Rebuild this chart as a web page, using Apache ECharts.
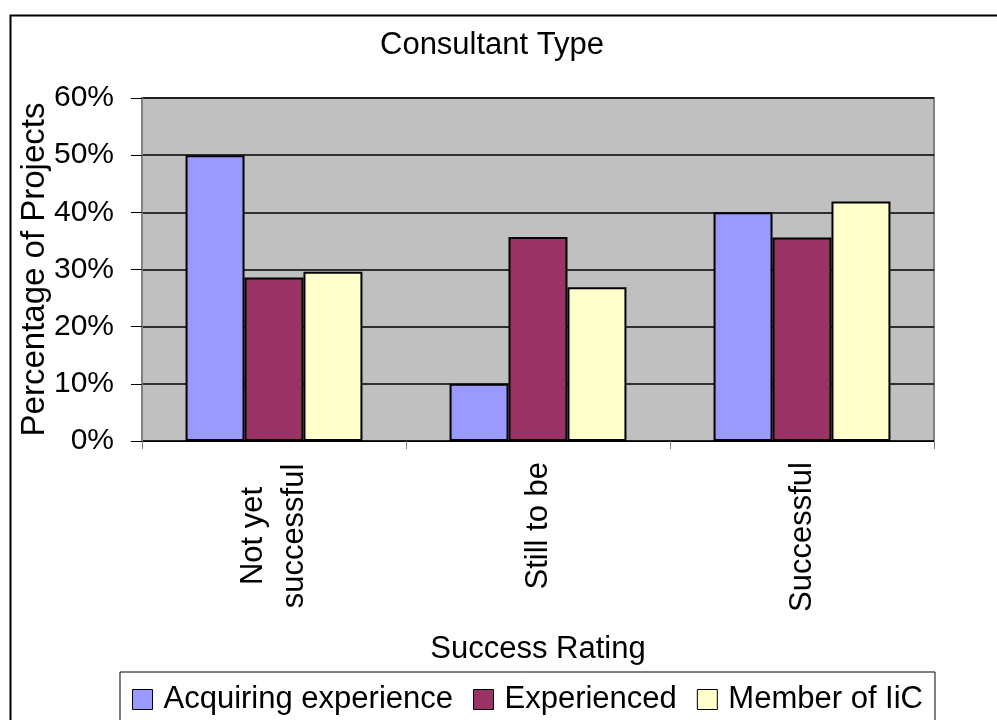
<!DOCTYPE html>
<html>
<head>
<meta charset="utf-8">
<script src="https://cdn.jsdelivr.net/npm/echarts@6/dist/echarts.min.js"></script>
<style>html,body{margin:0;padding:0;background:#fff}#c{width:997px;height:720px}</style>
</head>
<body>
<div id="c"></div>
<script>
const categories = ['Not yet\nsuccessful', 'Still to be', 'Successful'];
const seriesNames = ['Acquiring experience', 'Experienced', 'Member of IiC'];
const acquiring = [50.0, 10.0, 40.0];
const experienced = [28.6, 35.7, 35.6];
const member = [29.6, 26.9, 41.9];
const yTicks = [0, 10, 20, 30, 40, 50, 60];
const colors = ['#9999FF', '#993366', '#FFFFCC'];

const font = 'Liberation Sans, Arial, sans-serif';
const chart = echarts.init(document.getElementById('c'));
const values = [acquiring, experienced, member];
chart.setOption({
  animation: false,
  textStyle: { fontFamily: font },
  title: {
    text: 'Consultant Type',
    left: 375, top: 25,
    textStyle: { fontFamily: font, fontSize: 31, fontWeight: 'normal', color: '#000' }
  },
  graphic: [{
    type: 'rect', shape: { x: 10.5, y: 15.5, width: 1000, height: 720 },
    style: { fill: 'none', stroke: '#000', lineWidth: 2 }, silent: true, z: -1
  }],
  legend: {
    left: 120, top: 672,
    data: seriesNames.map((n, i) => ({ name: n, itemStyle: { color: colors[i], borderColor: '#000', borderWidth: 1 } })),
    itemWidth: 20, itemHeight: 20, itemGap: 20,
    icon: 'rect',
    padding: [12, 12, 40, 12],
    borderColor: '#000', borderWidth: 1,
    textStyle: { fontFamily: font, fontSize: 31, color: '#000', padding: [0, 0, 0, 6] }
  },
  grid: {
    left: 142, top: 98, right: 63, bottom: 279,
    show: true, backgroundColor: '#C0C0C0', borderColor: '#808080', borderWidth: 2
  },
  xAxis: {
    type: 'category', data: categories,
    name: 'Success Rating', nameLocation: 'middle', nameGap: 193, nameMoveOverlap: false,
    nameTextStyle: { fontFamily: font, fontSize: 31, color: '#000' },
    axisLine: { show: true, lineStyle: { color: '#000', width: 1 } },
    axisTick: { show: true, length: 8, lineStyle: { color: '#808080' } },
    axisLabel: {
      rotate: 90, margin: 21, fontFamily: font, fontSize: 31, color: '#000', align: 'right',
      formatter: v => v.includes('\n') ? v.split('\n').map(s => '{c|' + s + '}').join('\n') : v,
      rich: { c: { fontFamily: font, fontSize: 31, color: '#000', width: 148, align: 'center', lineHeight: 41 } }
    }
  },
  yAxis: {
    type: 'value', min: 0, max: 60, interval: 10,
    name: 'Percentage of Projects', nameLocation: 'middle', nameGap: 91, nameMoveOverlap: false,
    nameTextStyle: { fontFamily: font, fontSize: 33, color: '#000' },
    axisLine: { show: true, lineStyle: { color: '#808080', width: 2 } },
    axisTick: { show: true, length: 11, lineStyle: { color: '#000' } },
    axisLabel: { margin: 28, fontFamily: font, fontSize: 30, color: '#000',
      formatter: v => yTicks.includes(v) ? v + '%' : '' },
    splitLine: { show: true, lineStyle: { color: '#000', width: 1.5 } }
  },
  series: seriesNames.map((n, i) => ({
    name: n, type: 'bar', data: values[i],
    barGap: '0%', barCategoryGap: '33%',
    itemStyle: { color: colors[i], borderColor: '#000', borderWidth: 2 }
  }))
});
</script>
</body>
</html>
